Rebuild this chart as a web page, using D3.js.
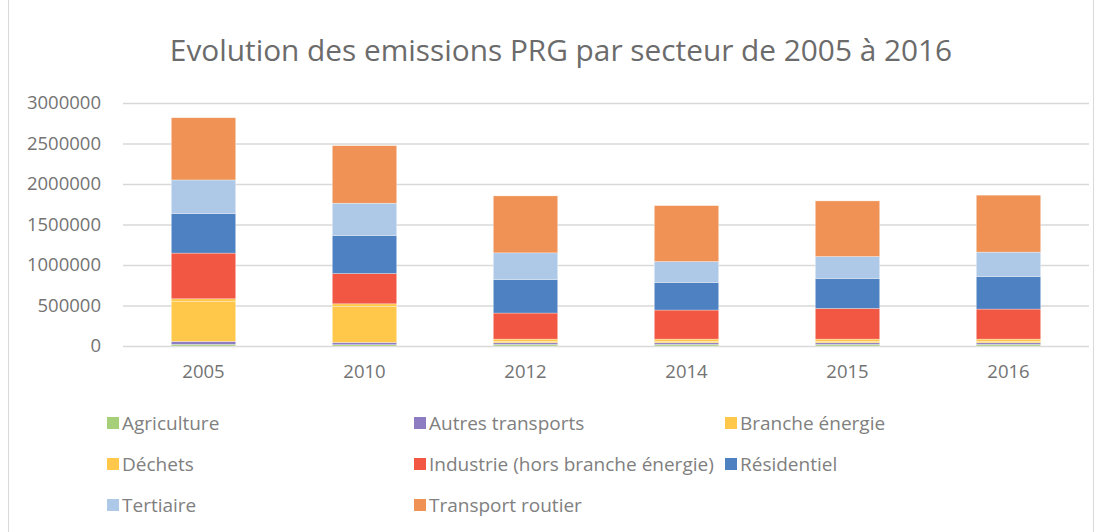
<!DOCTYPE html>
<html>
<head>
<meta charset="utf-8">
<script src="https://cdn.jsdelivr.net/npm/d3@7"></script>
<style>
  body { margin: 0; background: #fff; }
  text { font-family: "Open Sans", "Noto Sans", sans-serif; fill: #737373; }
</style>
</head>
<body>
<svg id="chart"></svg>
<script>
// data (tonnes eq. CO2)
const years = ["2005", "2010", "2012", "2014", "2015", "2016"];
const sectors = ["Agriculture", "Autres transports", "Branche énergie", "Déchets",
                 "Industrie (hors branche énergie)", "Résidentiel", "Tertiaire", "Transport routier"];
const colors = ["#a5cf78", "#8e7cc3", "#ffc84b", "#ffc84b", "#f15742", "#4e81c2", "#aec9e8", "#f09256"];

const agriculture = [20000, 16000, 20000, 20000, 20000, 20000];
const autresTransports = [37000, 28000, 20000, 20000, 20000, 20000];
const brancheEnergie = [490000, 445000, 15000, 15000, 15000, 15000];
const dechets = [36000, 32000, 30000, 30000, 30000, 30000];
const industrie = [564000, 374000, 322000, 359000, 379000, 371000];
const residentiel = [488000, 469000, 414000, 340000, 370000, 402000];
const tertiaire = [415000, 399000, 329000, 259000, 271000, 301000];
const transportRoutier = [768000, 710000, 703000, 690000, 686000, 703000];

const yTicks = [0, 500000, 1000000, 1500000, 2000000, 2500000, 3000000];

const series = [agriculture, autresTransports, brancheEnergie, dechets,
                industrie, residentiel, tertiaire, transportRoutier];

const rows = years.map((y, i) => {
    let r = {year: y};
    sectors.forEach((s, j) => r[s] = series[j][i]);
    return r;
});

let W = 1102, H = 532;
let margin = {top: 103, right: 13, bottom: 186, left: 123};
let width = W - margin.left - margin.right;
let height = H - margin.top - margin.bottom;

let svg = d3.select("#chart").attr("width", W).attr("height", H);

// outer frame
svg.append("rect")
    .attr("x", 8.5).attr("y", -2)
    .attr("width", W - 17).attr("height", H + 4)
    .attr("fill", "none")
    .attr("stroke", "#d9d9d9");

svg.append("text")
    .attr("x", 561).attr("y", 61)
    .attr("text-anchor", "middle")
    .style("font-size", "29.8px")
    .style("fill", "#6b6b6b")
    .text("Evolution des emissions PRG par secteur de 2005 à 2016");

let g = svg.append("g").attr("transform", `translate(${margin.left},${margin.top})`);

let x = d3.scaleBand()
    .domain(years)
    .range([0, width])
    .paddingInner(0.6)
    .paddingOuter(0.3);

let y = d3.scaleLinear()
    .domain([0, 3000000])
    .range([height, 0]);

// grid
g.append("g")
    .call(d3.axisLeft(y).tickValues(yTicks).tickSize(-width).tickFormat(""))
    .call(a => a.select(".domain").remove())
    .call(a => a.selectAll("line").attr("stroke", "#d9d9d9").attr("stroke-width", 1.3));

// y labels
g.append("g")
    .call(d3.axisLeft(y).tickValues(yTicks).tickSize(0).tickPadding(22).tickFormat(d3.format("d")))
    .call(a => a.select(".domain").remove())
    .call(a => a.selectAll("text").style("font-size", "18.5px").attr("fill", null)
        .style("font-family", "'Open Sans', sans-serif"));

let stack = d3.stack().keys(sectors)(rows);

g.selectAll("g.layer")
    .data(stack)
    .join("g")
    .attr("class", "layer")
    .attr("fill", (d, i) => colors[i])
    .selectAll("rect")
    .data(d => d)
    .join("rect")
    .attr("x", d => x(d.data.year))
    .attr("y", d => y(d[1]))
    .attr("width", x.bandwidth())
    .attr("height", d => y(d[0]) - y(d[1]))
    .attr("stroke", "#fff")
    .attr("stroke-opacity", 0.5)
    .attr("stroke-width", 0.6);

// x labels
g.append("g")
    .attr("transform", `translate(0,${height})`)
    .call(d3.axisBottom(x).tickSize(0).tickPadding(19))
    .call(a => a.select(".domain").remove())
    .call(a => a.selectAll("text").style("font-size", "18.5px").attr("fill", null)
        .style("font-family", "'Open Sans', sans-serif"));

// legend
let colX = [107, 414, 725];
let rowY = [423, 464, 505];
let legend = svg.append("g")
    .selectAll("g")
    .data(sectors)
    .join("g")
    .attr("transform", (d, i) => `translate(${colX[i % 3]},${rowY[Math.floor(i / 3)]})`);

legend.append("rect")
    .attr("x", 0).attr("y", -6)
    .attr("width", 12).attr("height", 12)
    .attr("fill", (d, i) => colors[i]);

legend.append("text")
    .attr("x", 15).attr("y", 7)
    .style("font-size", "19px")
    .style("fill", "#808080")
    .text(d => d);
</script>
</body>
</html>
